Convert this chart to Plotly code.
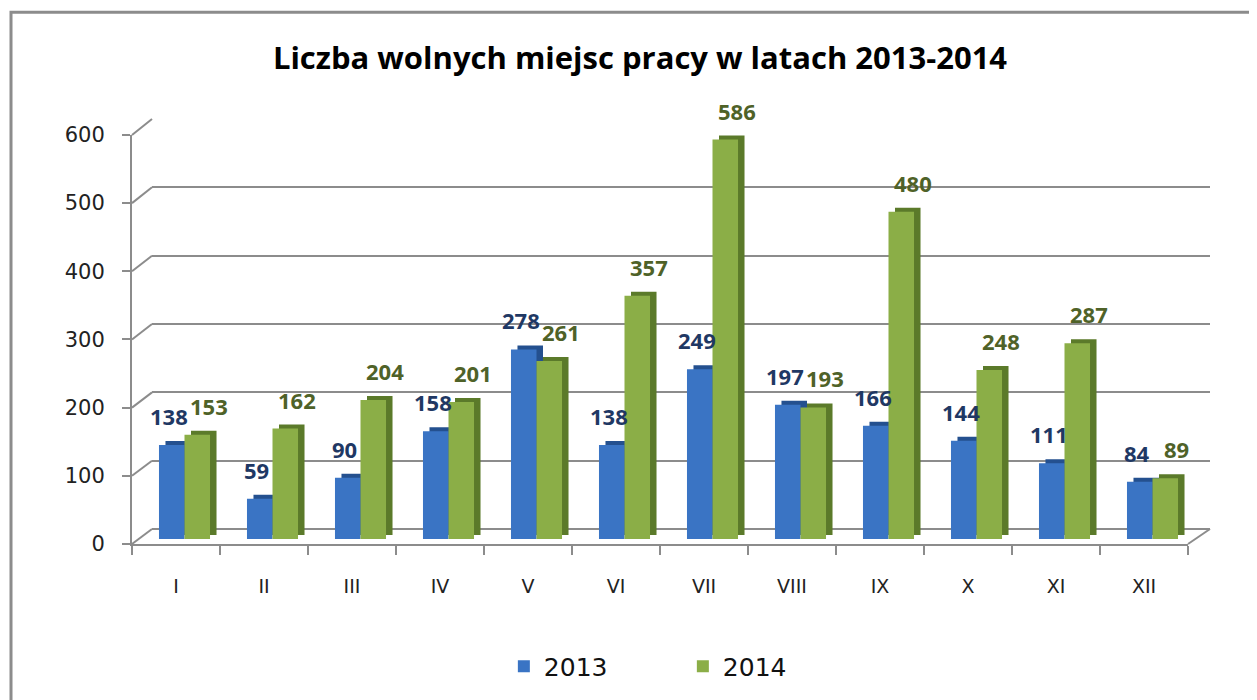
import plotly.graph_objects as go

# ---- data ----
months = ["I", "II", "III", "IV", "V", "VI", "VII", "VIII", "IX", "X", "XI", "XII"]
v2013 = [138, 59, 90, 158, 278, 138, 249, 197, 166, 144, 111, 84]
v2014 = [153, 162, 204, 201, 261, 357, 586, 193, 480, 248, 287, 89]
series_names = ["2013", "2014"]
y_ticks = [0, 100, 200, 300, 400, 500, 600]

# ---- layout geometry (pixels; page body has an 8px margin) ----
OFF = 8
W, H = 1257 - OFF, 700 - OFF
ML, MT = 132 - OFF, 119 - OFF
PW, PH = 1078, 426
MR = W - ML - PW
MB = H - MT - PH
FRONT_W = 1056            # front category axis width
FRONT_H = 410             # front value axis height
DEPTH_X, DEPTH_Y = 20, 15 # back wall offset
BAR_DX, BAR_DY = 8.5, 5   # bar front face offset
SH_DX, SH_DY = 15, 9      # bar back face offset

def xd(dx):
    return [dx / PW, (FRONT_W + dx) / PW]

def yd(dy, h=FRONT_H):
    return [dy / PH, (h + dy) / PH]

BLUE = "#3A74C4"
BLUE_D = "#24508F"
GREEN = "#8BAE47"
GREEN_D = "#5B7A2A"
BLUE_TXT = "#1F3864"
GREEN_TXT = "#4F6228"
GRID = "#8C8C8C"

fig = go.Figure()

# helper (invisible) trace so the back-wall grid subplot gets drawn
fig.add_trace(go.Scatter(x=months, y=v2014, mode="none", xaxis="x", yaxis="y",
                         showlegend=False, hoverinfo="skip"))

# back faces (shadow bars) on axis 2
for vals, col in [(v2013, BLUE_D), (v2014, GREEN_D)]:
    fig.add_trace(go.Bar(x=months, y=vals, marker=dict(color=col, line=dict(width=0)),
                         xaxis="x2", yaxis="y2", showlegend=False, hoverinfo="skip"))
# front faces on axis 3
for vals, col, name in [(v2013, BLUE, series_names[0]), (v2014, GREEN, series_names[1])]:
    fig.add_trace(go.Bar(x=months, y=vals, name=name,
                         marker=dict(color=col, line=dict(width=0)),
                         xaxis="x3", yaxis="y3"))

# helper (invisible) trace so the front tick axes get drawn
fig.add_trace(go.Scatter(x=months, y=v2014, mode="none", xaxis="x4", yaxis="y4",
                         showlegend=False, hoverinfo="skip"))

# data labels
annotations = []
for vals, col, xs in [(v2013, BLUE_TXT, -16), (v2014, GREEN_TXT, 24)]:
    for m, v in zip(months, vals):
        annotations.append(dict(x=m, y=v, xref="x3", yref="y3", text=f"<b>{v}</b>",
                                showarrow=False, yanchor="bottom", xanchor="center",
                                xshift=xs, yshift=12,
                                font=dict(family="Open Sans, Noto Sans, sans-serif", size=22, color=col)))

# diagonal connectors on left wall and floor
shapes = []
for t in y_ticks:
    y0 = t / 600 * FRONT_H / PH
    y1 = (DEPTH_Y + t / 600 * (PH - DEPTH_Y)) / PH
    shapes.append(dict(type="line", xref="paper", yref="paper", x0=0, y0=y0,
                       x1=DEPTH_X / PW, y1=y1, line=dict(color=GRID, width=2), layer="below"))
shapes.append(dict(type="line", xref="paper", yref="paper", x0=FRONT_W / PW, y0=0,
                   x1=1, y1=DEPTH_Y / PH, line=dict(color=GRID, width=2), layer="below"))
# outer chart border
shapes.append(dict(type="rect", xref="paper", yref="paper",
                   x0=(11 - OFF - ML) / PW, x1=(W + 30 - ML) / PW,
                   y0=-(MB + 30) / PH, y1=(H - MB - (12 - OFF)) / PH,
                   line=dict(color=GRID, width=3), fillcolor="rgba(0,0,0,0)", layer="below"))

axis_common = dict(showgrid=False, zeroline=False, showticklabels=False, ticks="", showline=False)

fig.update_layout(
    width=W, height=H,
    margin=dict(l=ML, r=MR, t=MT, b=MB),
    paper_bgcolor="white", plot_bgcolor="rgba(0,0,0,0)",
    barmode="group", bargap=0.42, bargroupgap=0,
    title=dict(text="<b>Liczba wolnych miejsc pracy w latach 2013-2014</b>",
               x=(640 - OFF) / W, xanchor="center", y=1 - (58 - OFF) / H, yanchor="middle",
               font=dict(family="Open Sans, Noto Sans, sans-serif", size=31, color="#000000")),
    # back wall grid
    xaxis=dict(domain=[DEPTH_X / PW, 1], categoryorder="array", categoryarray=months,
               range=[-0.5, 11.5], anchor="y", **axis_common),
    yaxis=dict(domain=[DEPTH_Y / PH, 1], range=[0, 600], showgrid=True, gridcolor=GRID,
               gridwidth=2, tickvals=y_ticks, zeroline=True, zerolinecolor=GRID, zerolinewidth=2,
               showticklabels=False, ticks="", anchor="x"),
    # shadow bars
    xaxis2=dict(domain=xd(SH_DX), categoryorder="array", categoryarray=months,
                range=[-0.5, 11.5], anchor="y2", **axis_common),
    yaxis2=dict(domain=yd(SH_DY), range=[0, 600], anchor="x2", **axis_common),
    # front bars
    xaxis3=dict(domain=xd(BAR_DX), categoryorder="array", categoryarray=months,
                range=[-0.5, 11.5], anchor="y3", **axis_common),
    yaxis3=dict(domain=yd(BAR_DY), range=[0, 600], anchor="x3", **axis_common),
    # front axes with ticks / labels
    xaxis4=dict(domain=xd(0), type="category", categoryorder="array",
                categoryarray=months, range=[-0.5, 11.5],
                anchor="y4", showgrid=False, zeroline=False, showline=True, linecolor=GRID,
                linewidth=2, ticks="outside", tickson="boundaries", ticklen=9, tickwidth=2,
                tickcolor=GRID, ticklabelstandoff=24,
                tickfont=dict(family="DejaVu Sans, sans-serif", size=19, color="#222222")),
    yaxis4=dict(domain=yd(0), range=[0, 600], tickvals=y_ticks, anchor="x4",
                showgrid=False, zeroline=False, showline=True, linecolor=GRID, linewidth=2,
                ticks="outside", ticklen=8, tickwidth=2, tickcolor=GRID, ticklabelstandoff=13,
                tickfont=dict(family="DejaVu Sans, sans-serif", size=21, color="#222222")),
    legend=dict(orientation="h", x=0.511, xanchor="center", y=-0.285, yanchor="middle",
                entrywidth=134, font=dict(family="DejaVu Sans, sans-serif", size=25, color="#111111"),
                bgcolor="rgba(0,0,0,0)"),
    annotations=annotations,
    shapes=shapes,
    showlegend=True,
)

fig.write_html("out.html")
